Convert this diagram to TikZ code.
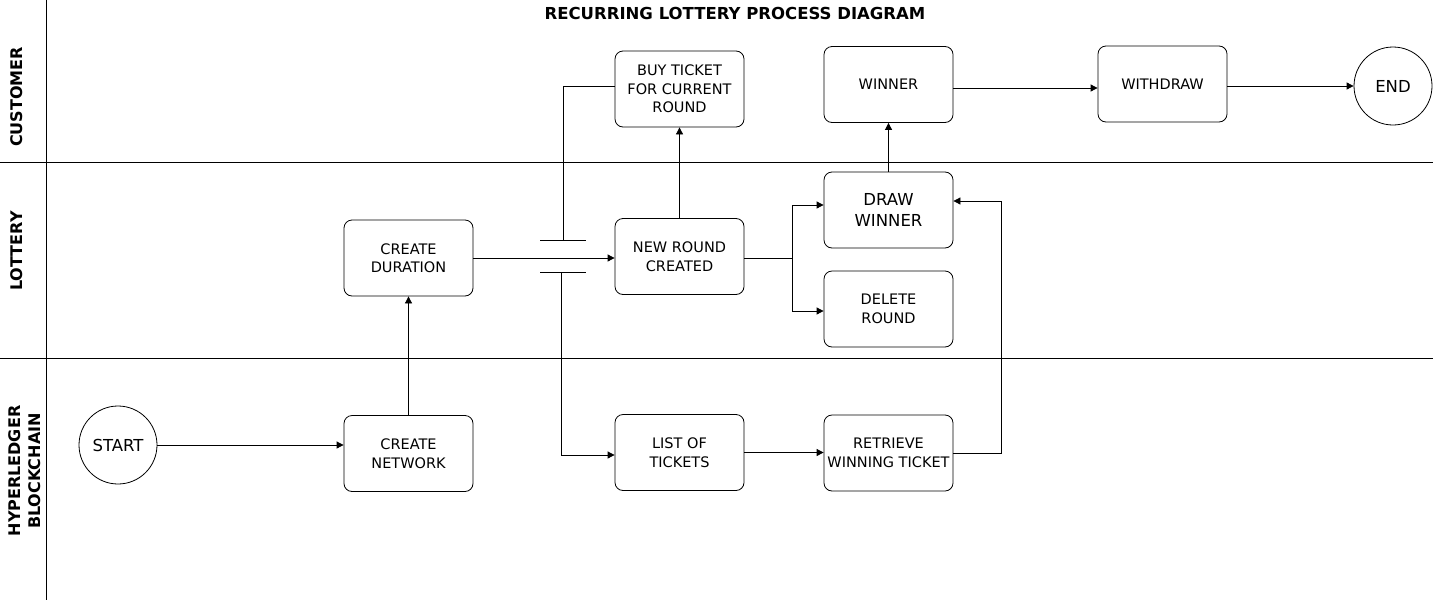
\documentclass[tikz,border=0pt]{standalone}
\usepackage{fontspec}
\setmainfont{DejaVu Sans}
\usetikzlibrary{arrows.meta,shapes.geometric,calc}
\begin{document}
\begin{tikzpicture}[x=1pt,y=-1pt,
  line width=0.8pt,
  box/.style={draw,rounded corners=8pt,minimum width=129pt,minimum height=76pt,align=center,font=\fontsize{14.5}{18.5}\selectfont,inner sep=0pt},
  circ/.style={draw,circle,minimum size=78pt,inner sep=0pt,font=\fontsize{16.5}{18}\selectfont},
  arr/.style={-{Triangle[length=7pt,width=7pt]}},
  lane/.style={rotate=90,font=\bfseries\fontsize{16}{20}\selectfont,align=center}]
\useasboundingbox (0,0) rectangle (1440,600);
% lanes
\draw (46,0) -- (46,600);
\draw (0,162) -- (1433,162);
\draw (0,358) -- (1433,358);
\node[font=\bfseries\fontsize{16.5}{18}\selectfont] (title) at (735,13) {RECURRING LOTTERY PROCESS DIAGRAM};
\node[lane] (lc) at (17,97) {CUSTOMER};
\node[lane] (ll) at (17,251) {LOTTERY};
\node[lane] (lh) at (25,471) {HYPERLEDGER\\BLOCKCHAIN};
% nodes
\node[box] (buy) at (679.5,89) {BUY TICKET\\FOR CURRENT\\ROUND};
\node[box] (winner) at (888.5,84.5) {WINNER};
\node[box] (withdraw) at (1162.5,84) {WITHDRAW};
\node[circ] (end) at (1393,86) {END};
\node[box] (dur) at (408.5,258) {CREATE\\DURATION};
\node[box] (round) at (679.5,256.5) {NEW ROUND\\CREATED};
\node[box,font=\fontsize{16.5}{21}\selectfont] (draw) at (888.5,210) {DRAW\\WINNER};
\node[box] (delete) at (888.5,309) {DELETE\\ROUND};
\node[circ] (start) at (118,445) {START};
\node[box] (net) at (408.5,453.5) {CREATE\\NETWORK};
\node[box] (list) at (679.5,452.5) {LIST OF\\TICKETS};
\node[box] (ret) at (888.5,453) {RETRIEVE\\WINNING TICKET};
% connectors
\draw[arr] (start.east) -- (start.east -| net.west);
\draw[arr] (net.north) -- (dur.south);
\draw[arr] (dur.east) -- (dur.east -| round.west);
\coordinate (c1l) at (540,240); \coordinate (c1r) at (586,240);
\coordinate (c2l) at (540,272); \coordinate (c2r) at (586,272);
\draw (c1l) -- (c1r);
\draw (c2l) -- (c2r);
\coordinate (v1) at (563,240);
\coordinate (v2) at (561,272);
\draw (v1) |- ([yshift=3pt]buy.west);
\draw[arr] (v2) |- ([yshift=-2.5pt]list.west);
\draw[arr] (round.north) -- (buy.south);
\coordinate (split) at (792,258);
\draw (round.east |- split) -- (split);
\draw[arr] (split) |- ([yshift=5pt]draw.west);
\draw[arr] (split) |- ([yshift=-2pt]delete.west);
\draw[arr] (draw.north) -- (winner.north |- winner.south);
\draw[arr] ([yshift=-3.5pt]winner.east) -- ([yshift=-3.5pt]winner.east -| withdraw.west);
\draw[arr] ([yshift=-2pt]withdraw.east) -- ([yshift=-2pt]withdraw.east -| end.west);
\draw[arr] (list.east) -- (list.east -| ret.west);
\coordinate (rr) at (1001,453);
\draw[arr] (ret.east) -- (rr) |- ([yshift=9pt]draw.east);
\end{tikzpicture}
\end{document}
